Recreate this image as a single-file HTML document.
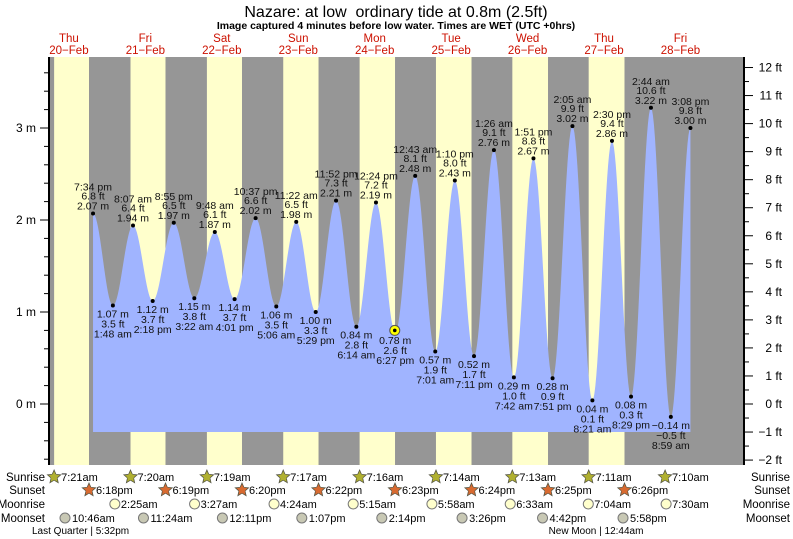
<!DOCTYPE html>
<html><head><meta charset="utf-8"><style>
html,body{margin:0;padding:0;background:#fff;width:793px;height:539px;overflow:hidden}
svg{display:block;font-family:"Liberation Sans",Arial,sans-serif}
</style></head><body>
<svg id="s" width="793" height="539" xmlns="http://www.w3.org/2000/svg"></svg>
<script>
const S=document.getElementById('s');let h='';
function X(d,hr){return 89+((d*24+hr)-18.3)*3.185;}
function Y(m){return 404-92*m;}
h+='<rect x="50" y="57" width="693" height="408" fill="#969696"/>';
const sr=[7+21/60,7+20/60,7+19/60,7+17/60,7+16/60,7+14/60,7+13/60,7+11/60,7+10/60];
const ss=[18.3,18+19/60,18+20/60,18+22/60,18+23/60,18+24/60,18+25/60,18+26/60];
for(let d=0;d<8;d++){let a=X(d,sr[d]),b=X(d,ss[d]);h+=`<rect x="${a}" y="57" width="${b-a}" height="408" fill="#ffffcc"/>`;}
const T=[[0,19+34/60,2.07,'7:34 pm','6.8'],[1,1.8,1.07,'1:48 am','3.5'],[1,8+7/60,1.94,'8:07 am','6.4'],[1,14.3,1.12,'2:18 pm','3.7'],[1,20+55/60,1.97,'8:55 pm','6.5'],[2,3+22/60,1.15,'3:22 am','3.8'],[2,9.8,1.87,'9:48 am','6.1'],[2,16+1/60,1.14,'4:01 pm','3.7'],[2,22+37/60,2.02,'10:37 pm','6.6'],[3,5.1,1.06,'5:06 am','3.5'],[3,11+22/60,1.98,'11:22 am','6.5'],[3,17+29/60,1.00,'5:29 pm','3.3'],[3,23+52/60,2.21,'11:52 pm','7.3'],[4,6+14/60,0.84,'6:14 am','2.8'],[4,12.4,2.19,'12:24 pm','7.2'],[4,18.45,0.78,'6:27 pm','2.6'],[5,43/60,2.48,'12:43 am','8.1'],[5,7+1/60,0.57,'7:01 am','1.9'],[5,13+10/60,2.43,'1:10 pm','8.0'],[5,19+11/60,0.52,'7:11 pm','1.7'],[6,1+26/60,2.76,'1:26 am','9.1'],[6,7.7,0.29,'7:42 am','1.0'],[6,13.85,2.67,'1:51 pm','8.8'],[6,19.85,0.28,'7:51 pm','0.9'],[7,2+5/60,3.02,'2:05 am','9.9'],[7,8.35,0.04,'8:21 am','0.1'],[7,14.5,2.86,'2:30 pm','9.4'],[7,20+29/60,0.08,'8:29 pm','0.3'],[8,2+44/60,3.22,'2:44 am','10.6'],[8,8+59/60,-0.14,'8:59 am','\u22120.5'],[8,15+8/60,3.00,'3:08 pm','9.8']];
let P=T.map(t=>[X(t[0],t[1]),Y(t[2])]);
let p=`M${P[0][0]},432 L${P[0][0]},${P[0][1]}`;
for(let i=0;i<P.length-1;i++){const[a,ya]=P[i],[b,yb]=P[i+1];for(let k=1;k<=20;k++){const f=k/20;p+=` L${a+(b-a)*f},${ya+(yb-ya)*(1-Math.cos(Math.PI*f))/2}`;}}
p+=` L${P[P.length-1][0]},432 Z`;
h+=`<path d="${p}" fill="#a0b4ff"/>`;
T.forEach((t,i)=>{const[x,y]=P[i];const hi=i%2==0;
h+=`<circle cx="${x}" cy="${y}" r="2" fill="#000"/>`;
const m=(t[2]<0?'\u2212'+(-t[2]).toFixed(2):t[2].toFixed(2))+' m';
const st='font-size="10.5" text-anchor="middle" fill="#111"';
if(hi){h+=`<text x="${x}" y="${y-4}" ${st}>${m}</text><text x="${x}" y="${y-14}" ${st}>${t[4]} ft</text><text x="${x}" y="${y-23}" ${st}>${t[3]}</text>`;}
else{h+=`<text x="${x}" y="${y+12}" ${st}>${m}</text><text x="${x}" y="${y+22}" ${st}>${t[4]} ft</text><text x="${x}" y="${y+32}" ${st}>${t[3]}</text>`;}
});
h+=`<circle cx="${X(4,18.3)}" cy="${Y(0.8)}" r="5" fill="#ffff00" stroke="#555" stroke-width="1"/><circle cx="${X(4,18.3)}" cy="${Y(0.8)}" r="1.8" fill="#000"/>`;
h+='<rect x="48" y="57" width="2" height="408" fill="#000"/><rect x="743" y="57" width="2" height="408" fill="#000"/>';
for(let m=-0.6;m<=3.7;m+=0.2){const y=Y(m);if(y<57||y>465)continue;h+=`<line x1="44" x2="48" y1="${y}" y2="${y}" stroke="#000"/>`;}
[0,1,2,3].forEach(m=>{const y=Y(m);h+=`<line x1="40" x2="48" y1="${y}" y2="${y}" stroke="#000"/><text x="36" y="${y+4}" font-size="12" text-anchor="end">${m} m</text>`;});
for(let f=-2;f<=12.5;f+=0.5){const y=404-28.04*f;if(y<57||y>465)continue;const maj=f%1==0;h+=`<line x1="745" x2="${maj?753:749}" y1="${y}" y2="${y}" stroke="#000"/>`;if(maj)h+=`<text x="782" y="${y+4}" font-size="12" text-anchor="end">${f<0?'\u2212'+(-f):f} ft</text>`;}
h+='<text x="396" y="17" font-size="16" text-anchor="middle">Nazare: at low&#160; ordinary tide at 0.8m (2.5ft)</text>';
h+='<text x="396" y="29" font-size="10.5" font-weight="bold" text-anchor="middle">Image captured 4 minutes before low water. Times are WET (UTC +0hrs)</text>';
const dn=['Thu','Fri','Sat','Sun','Mon','Tue','Wed','Thu','Fri'];
dn.forEach((n,d)=>{const x=X(d,12);h+=`<text x="${x}" y="42" font-size="11.5" fill="#cc1100" text-anchor="middle">${n}</text><text x="${x}" y="54" font-size="11.5" fill="#cc1100" text-anchor="middle">${20+d}\u2212Feb</text>`;});
const rows=[['Sunrise',477],['Sunset',490],['Moonrise',504],['Moonset',518]];
rows.forEach(r=>{h+=`<text x="45" y="${r[1]+4}" font-size="11.5" text-anchor="end">${r[0]}</text><text x="790" y="${r[1]+4}" font-size="11.5" text-anchor="end">${r[0]}</text>`;});
function star(x,y,fill){let pts=[];for(let i=0;i<10;i++){const a=-Math.PI/2+i*Math.PI/5,r=i%2?3.2:7;pts.push((x+r*Math.cos(a)).toFixed(1)+','+(y+r*Math.sin(a)).toFixed(1));}return `<polygon points="${pts.join(' ')}" fill="${fill}" stroke="#554" stroke-width="0.8"/><circle cx="${x}" cy="${y}" r="3.3" fill="${fill}"/>`;}
const fmt=v=>{let hh=Math.floor(v+1e-6),mm=Math.round((v-hh)*60);const ap=hh>=12?'pm':'am';let h12=hh%12||12;return h12+':'+String(mm).padStart(2,'0')+ap;};
sr.forEach((v,d)=>{const x=X(d,v);h+=star(x,477,'#b0b030')+`<text x="${x+7}" y="481" font-size="11">${fmt(v)}</text>`;});
ss.forEach((v,d)=>{const x=X(d,v);h+=star(x,490,'#d86a30')+`<text x="${x+7}" y="494" font-size="11">${fmt(v)}</text>`;});
const mr=[2+25/60,3+27/60,4.4,5.25,5+58/60,6.55,7+4/60,7.5];
mr.forEach((v,i)=>{const x=X(i+1,v);h+=`<circle cx="${x}" cy="504" r="5" fill="#ffffcc" stroke="#777"/><text x="${x+6}" y="508" font-size="11">${fmt(v)}</text>`;});
const ms=[10+46/60,11.4,12+11/60,13+7/60,14+14/60,15+26/60,16.7,17+58/60];
ms.forEach((v,i)=>{const x=X(i,v);h+=`<circle cx="${x}" cy="518" r="5" fill="#c8c8b4" stroke="#777"/><text x="${x+7}" y="522" font-size="11">${fmt(v)}</text>`;});
h+='<text x="32" y="534" font-size="10">Last Quarter | 5:32pm</text>';
h+='<text x="596" y="534" font-size="10" text-anchor="middle">New Moon | 12:44am</text>';
S.innerHTML=h;
</script>
</body></html>
